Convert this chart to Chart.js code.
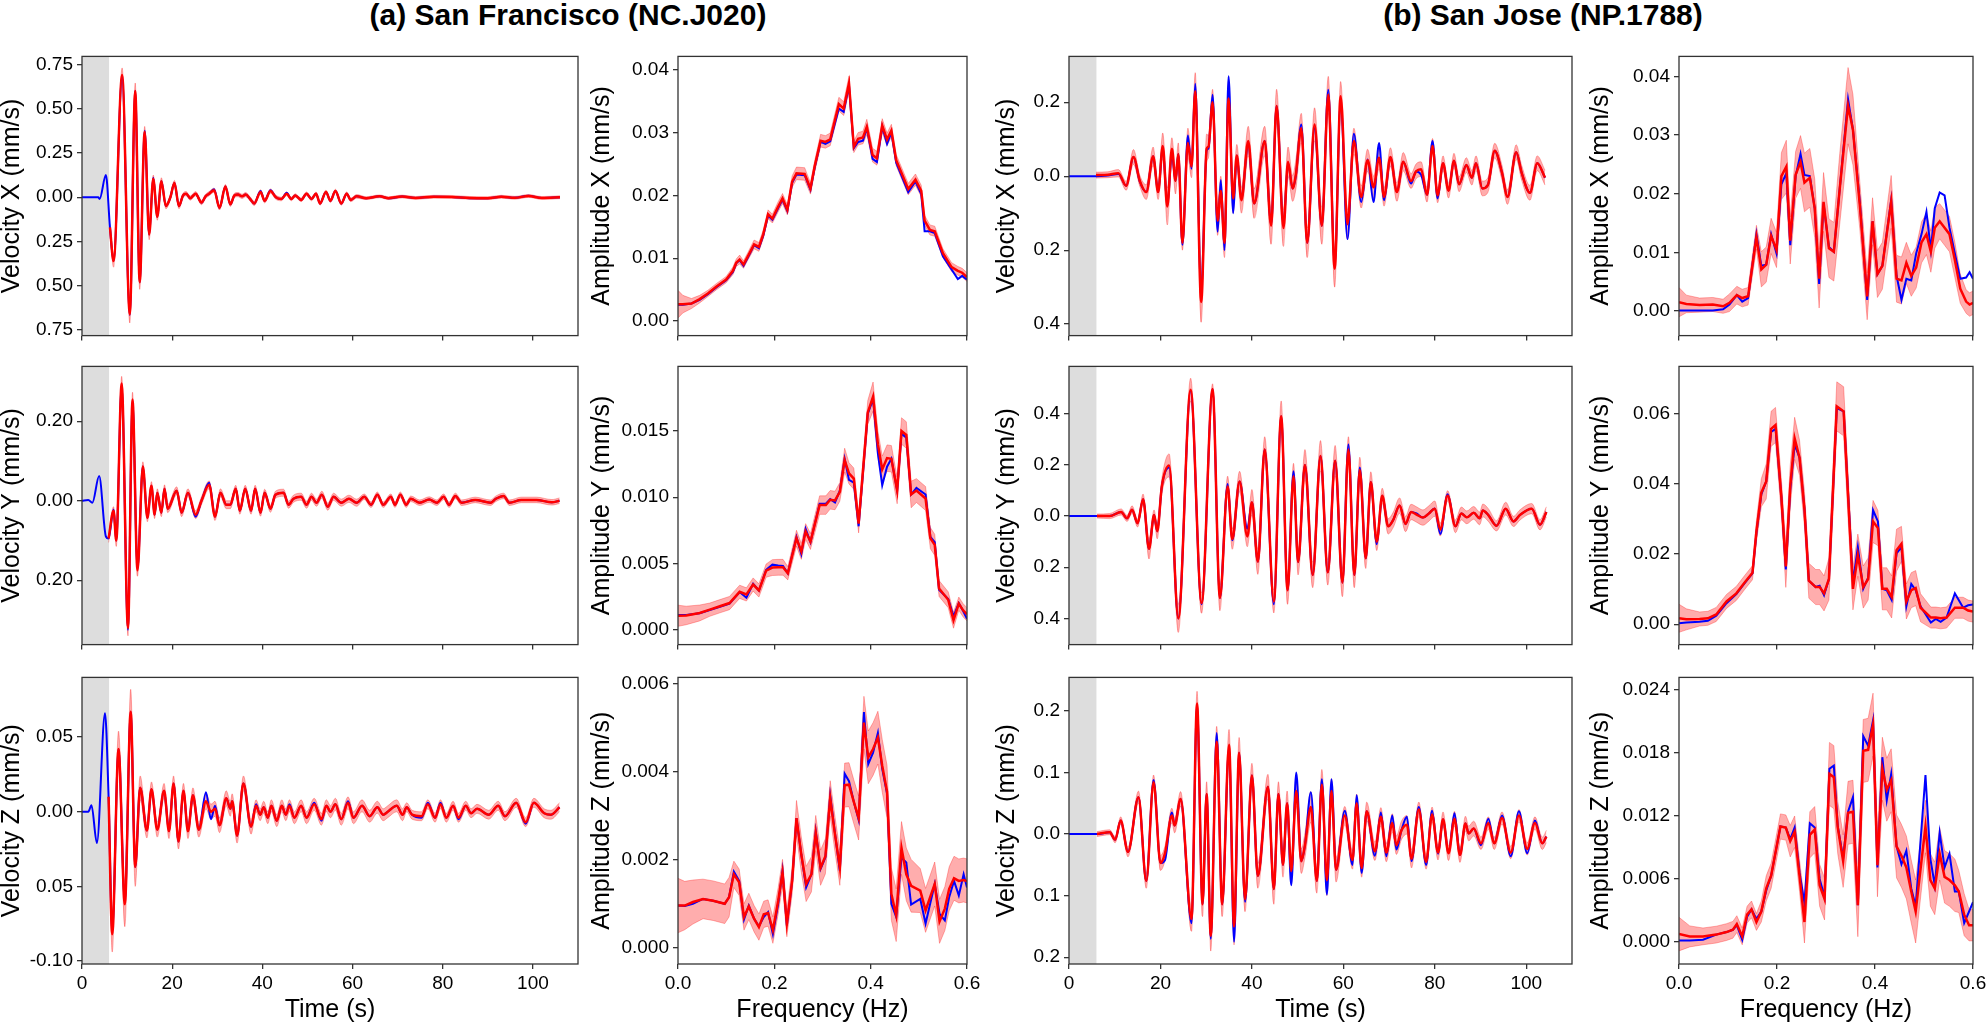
<!DOCTYPE html>
<html>
<head>
<meta charset="utf-8">
<title>Waveform and spectrum reconstruction</title>
<script src="https://cdn.jsdelivr.net/npm/chart.js@4.4.1/dist/chart.umd.min.js"></script>
<style>
html, body { margin: 0; padding: 0; background: #fff; }
body { position: relative; width: 1986px; height: 1029px; overflow: hidden; }
canvas { position: absolute; }
.fig-title { position: absolute; top: 0px; transform: translateX(-50%); font: bold 30px/30px 'Liberation Sans', Arial, sans-serif; color: #000; white-space: nowrap; }
</style>
</head>
<body>
<div class="fig-title" style="left:568px">(a) San Francisco (NC.J020)</div>
<div class="fig-title" style="left:1543px">(b) San Jose (NP.1788)</div>
<script>
/* ---------- data ---------- */
var inputWindow = [0, 6];

var timeTicks = [0, 20, 40, 60, 80, 100];
var timeTickLabels = ['0', '20', '40', '60', '80', '100'];
var freqTicks = [0, 0.2, 0.4, 0.6];
var freqTickLabels = ['0.0', '0.2', '0.4', '0.6'];

/* (a) San Francisco, velocity X */
var sfVelXTime = [0, 3.6, 3.9, 5.3, 6.2, 7.0, 8.9, 10.6, 11.8, 12.8, 13.9, 14.9, 15.8, 16.7, 17.6, 18.6, 19.6, 20.5, 21.5, 22.4, 23.1, 24.0, 25.2, 26.5, 27.4, 28.2, 29.3, 30.5, 31.8, 32.9, 33.8, 34.6, 35.5, 36.3, 37.3, 38.2, 39.6, 40.5, 41.8, 43.0, 44.2, 45.4, 46.4, 47.3, 48.6, 49.8, 50.9, 51.9, 52.8, 54.1, 55.1, 56.2, 57.5, 58.7, 59.6, 60.9, 63, 66, 68, 71, 74, 78, 82, 86, 90, 93, 96, 99, 102, 106];
var sfVelXTrue = [0, 0, -0.01, 0.125, -0.17, -0.36, 0.68, -0.665, 0.60, -0.48, 0.375, -0.21, 0.11, -0.11, 0.09, -0.05, 0.0, 0.08, -0.05, 0.01, 0.02, -0.005, 0.02, -0.03, 0.005, 0.02, 0.045, -0.06, 0.06, -0.04, 0.01, 0.015, 0.005, 0.015, -0.01, -0.035, 0.035, -0.02, 0.04, 0.0, -0.01, 0.025, -0.01, 0.01, -0.015, 0.02, -0.01, 0.02, -0.035, 0.03, -0.02, 0.035, -0.035, 0.02, -0.015, 0.005, -0.005, 0.006, -0.006, 0.004, -0.004, 0.003, 0.002, -0.005, -0.006, 0.003, -0.003, 0.008, -0.004, 0.0];
var sfVelXPred = [null, null, null, null, -0.17, -0.36, 0.69, -0.66, 0.60, -0.48, 0.37, -0.21, 0.105, -0.11, 0.09, -0.05, 0.0, 0.08, -0.05, 0.01, 0.02, -0.005, 0.02, -0.03, 0.005, 0.02, 0.04, -0.06, 0.06, -0.04, 0.01, 0.015, 0.005, 0.015, -0.01, -0.035, 0.03, -0.02, 0.035, 0.0, -0.01, 0.02, -0.01, 0.01, -0.015, 0.02, -0.01, 0.02, -0.035, 0.03, -0.02, 0.035, -0.035, 0.02, -0.015, 0.005, -0.005, 0.005, -0.005, 0.004, -0.004, 0.003, 0.002, -0.004, -0.005, 0.003, -0.003, 0.007, -0.004, 0.0];
var sfVelXStd = [null, null, null, null, 0.02, 0.035, 0.04, 0.05, 0.045, 0.04, 0.03, 0.03, 0.02, 0.02, 0.02, 0.015, 0.015, 0.015, 0.015,
  0.012, 0.012, 0.012, 0.012, 0.012, 0.012, 0.012, 0.012, 0.012, 0.012, 0.012, 0.012, 0.012, 0.012, 0.012, 0.012, 0.012, 0.012, 0.012, 0.012, 0.012,
  0.01, 0.01, 0.01, 0.01, 0.01, 0.01, 0.01, 0.01, 0.01, 0.01, 0.01, 0.01, 0.01, 0.01, 0.01, 0.01,
  0.008, 0.008, 0.008, 0.008, 0.008, 0.008, 0.008, 0.008, 0.008, 0.008, 0.008, 0.008, 0.008, 0.008];
var sfVelXTicks = [0.75, 0.5, 0.25, 0, -0.25, -0.5, -0.75];
var sfVelXTickLabels = ['0.75', '0.50', '0.25', '0.00', '0.25', '0.50', '0.75'];

/* (a) San Francisco, velocity Y */
var sfVelYTime = [0, 1.4, 2.3, 3.8, 5.3, 5.9, 7.0, 7.6, 8.8, 10.2, 11.2, 12.3, 13.5, 14.5, 15.4, 16.1, 16.7, 17.6, 18.3, 19.0, 21.0, 22.1, 23.5, 25.2, 26.5, 28.2, 29.5, 30.7, 32.0, 32.9, 34.1, 35.0, 36.2, 37.5, 38.4, 39.6, 40.5, 41.8, 42.9, 44.7, 45.8, 46.9, 48.6, 49.8, 50.9, 52.0, 53.2, 54.5, 55.8, 57.5, 59.2, 60.9, 62.6, 64.1, 65.5, 66.8, 68.5, 69.4, 70.6, 71.9, 72.9, 74.9, 77.0, 78.7, 80.2, 81.4, 82.8, 84.2, 87.2, 90.6, 91.8, 93.5, 94.8, 97.4, 100.8, 104.2, 105.9];
var sfVelYTrue = [0, 0.002, -0.005, 0.062, -0.09, -0.095, -0.022, -0.10, 0.29, -0.325, 0.25, -0.17, 0.086, -0.043, 0.038, -0.035, 0.02, -0.03, 0.03, -0.02, 0.025, -0.03, 0.02, -0.04, 0.0, 0.045, -0.04, 0.02, -0.01, -0.01, 0.03, -0.025, 0.03, -0.025, 0.03, -0.03, 0.02, -0.02, 0.015, 0.02, -0.01, 0.005, 0.01, -0.01, 0.01, -0.005, 0.015, -0.015, 0.01, -0.005, 0.005, -0.005, 0.01, -0.01, 0.015, -0.01, 0.01, -0.01, 0.015, -0.01, 0.005, -0.005, 0.003, -0.005, 0.01, -0.01, 0.012, -0.005, 0.002, -0.005, 0.005, 0.012, -0.005, 0.002, 0.002, -0.004, 0.0];
var sfVelYPred = [null, null, null, null, null, -0.095, -0.025, -0.10, 0.295, -0.32, 0.255, -0.175, 0.086, -0.043, 0.038, -0.035, 0.02, -0.03, 0.03, -0.02, 0.025, -0.03, 0.02, -0.035, 0.0, 0.04, -0.04, 0.02, -0.01, -0.01, 0.03, -0.025, 0.03, -0.025, 0.03, -0.03, 0.02, -0.02, 0.015, 0.02, -0.01, 0.005, 0.01, -0.01, 0.01, -0.005, 0.015, -0.015, 0.01, -0.005, 0.005, -0.005, 0.01, -0.01, 0.015, -0.01, 0.01, -0.01, 0.015, -0.01, 0.005, -0.005, 0.003, -0.005, 0.01, -0.01, 0.012, -0.005, 0.002, -0.005, 0.005, 0.012, -0.005, 0.002, 0.002, -0.004, 0.0];
var sfVelYStd = [null, null, null, null, null, 0.01, 0.01, 0.015, 0.018, 0.02, 0.018, 0.015, 0.012,
  0.01, 0.01, 0.01, 0.01, 0.01, 0.01, 0.01, 0.01, 0.01, 0.01, 0.01, 0.01, 0.01, 0.01, 0.01, 0.01, 0.01,
  0.009, 0.009, 0.009, 0.009, 0.009, 0.009, 0.009, 0.009, 0.009, 0.009, 0.009, 0.009, 0.009, 0.009, 0.009, 0.009, 0.009, 0.009, 0.009, 0.009, 0.009, 0.009,
  0.007, 0.007, 0.007, 0.007, 0.007, 0.007, 0.007, 0.007, 0.007, 0.007, 0.007, 0.007, 0.007, 0.007, 0.007, 0.007, 0.007, 0.007, 0.007, 0.007, 0.007, 0.007, 0.007, 0.007, 0.007];
var sfVelYTicks = [0.2, 0, -0.2];
var sfVelYTickLabels = ['0.20', '0.00', '0.20'];

/* (a) San Francisco, velocity Z */
var sfVelZTime = [0, 1.4, 2.1, 3.3, 5.1, 5.9, 6.7, 8.1, 9.5, 10.8, 11.8, 12.9, 14.4, 15.4, 16.7, 18.2, 19.3, 20.3, 21.4, 22.5, 23.5, 24.6, 25.9, 27.5, 28.6, 29.5, 30.5, 32.0, 32.9, 33.3, 34.4, 35.8, 37.5, 38.6, 39.5, 40.3, 41.2, 42.0, 43.2, 44.3, 45.2, 46.0, 47.1, 48.6, 49.8, 51.5, 53.1, 54.2, 55.1, 56.2, 57.5, 59.0, 60.2, 62.1, 63.8, 65.5, 66.8, 67.8, 69.8, 71.1, 72.0, 73.2, 75.3, 76.7, 78.3, 79.5, 80.8, 82.3, 83.5, 85.1, 86.3, 87.6, 90.2, 92.3, 93.8, 96.3, 98.4, 100.2, 102.5, 104.0, 105.9];
var sfVelZTrue = [0, 0.0, 0.0044, -0.021, 0.066, 0.0095, -0.08, 0.042, -0.06, 0.067, -0.037, 0.016, -0.0126, 0.015, -0.012, 0.014, -0.013, 0.019, -0.02, 0.014, -0.013, 0.011, -0.012, 0.013, -0.005, 0.004, -0.009, 0.009, 0.002, 0.007, -0.016, 0.019, -0.01, 0.005, -0.002, 0.003, -0.004, 0.004, -0.006, 0.004, -0.002, 0.005, -0.004, 0.004, -0.004, 0.006, -0.006, 0.004, 0.0, 0.005, -0.005, 0.007, -0.004, 0.004, -0.003, 0.003, -0.002, 0.0, 0.004, -0.002, 0.003, -0.002, -0.004, 0.006, -0.004, 0.006, -0.004, 0.004, -0.005, 0.004, -0.001, 0.002, -0.002, 0.004, -0.003, 0.006, -0.008, 0.006, -0.001, -0.002, 0.003];
var sfVelZPred = [null, null, null, null, null, 0.01, -0.082, 0.042, -0.062, 0.067, -0.037, 0.016, -0.0126, 0.015, -0.012, 0.014, -0.013, 0.019, -0.02, 0.014, -0.013, 0.011, -0.012, 0.007, 0.0, 0.002, -0.009, 0.009, 0.002, 0.007, -0.016, 0.019, -0.01, 0.004, -0.002, 0.003, -0.004, 0.004, -0.006, 0.004, -0.002, 0.004, -0.004, 0.004, -0.004, 0.005, -0.005, 0.004, 0.0, 0.005, -0.005, 0.006, -0.004, 0.004, -0.003, 0.003, -0.002, 0.0, 0.004, -0.002, 0.003, -0.002, -0.003, 0.005, -0.004, 0.005, -0.004, 0.004, -0.004, 0.004, -0.001, 0.002, -0.002, 0.004, -0.003, 0.006, -0.007, 0.006, -0.001, -0.002, 0.003];
var sfVelZStd = [null, null, null, null, null, 0.004, 0.012, 0.012, 0.015, 0.015, 0.013, 0.008,
  0.005, 0.005, 0.005, 0.005, 0.005, 0.005, 0.005, 0.005, 0.005, 0.005, 0.005, 0.005, 0.005, 0.005, 0.005, 0.005, 0.005, 0.005, 0.005, 0.005, 0.005,
  0.004, 0.004, 0.004, 0.004, 0.004, 0.004, 0.004, 0.004, 0.004, 0.004, 0.004, 0.004, 0.004, 0.004, 0.004, 0.004, 0.004, 0.004, 0.004, 0.004, 0.004, 0.004, 0.004, 0.004, 0.004, 0.004, 0.004,
  0.003, 0.003, 0.003, 0.003, 0.003, 0.003, 0.003, 0.003, 0.003, 0.003, 0.003, 0.003, 0.003, 0.003, 0.003, 0.003, 0.003, 0.003, 0.003, 0.003, 0.003];
var sfVelZTicks = [0.05, 0, -0.05, -0.1];
var sfVelZTickLabels = ['0.05', '0.00', '0.05', '-0.10'];

/* (a) San Francisco, amplitude spectra */
var sfAmpXFreq = [0, 0.010, 0.028, 0.045, 0.062, 0.080, 0.100, 0.114, 0.121, 0.128, 0.136, 0.145, 0.158, 0.168, 0.177, 0.187, 0.196, 0.208, 0.217, 0.227, 0.237, 0.246, 0.263, 0.275, 0.284, 0.296, 0.306, 0.316, 0.334, 0.344, 0.355, 0.365, 0.374, 0.384, 0.392, 0.404, 0.413, 0.424, 0.434, 0.443, 0.453, 0.478, 0.493, 0.505, 0.512, 0.523, 0.533, 0.550, 0.568, 0.581, 0.590, 0.600];
var sfAmpXTrue = [0.0026, 0.0026, 0.0028, 0.0034, 0.0043, 0.0054, 0.0065, 0.0078, 0.0092, 0.0097, 0.0088, 0.0101, 0.0121, 0.0116, 0.0136, 0.0168, 0.0161, 0.0180, 0.0193, 0.0175, 0.0220, 0.0233, 0.0232, 0.0209, 0.0245, 0.0285, 0.0282, 0.0286, 0.0338, 0.0333, 0.0375, 0.0275, 0.0285, 0.0287, 0.0307, 0.0258, 0.0253, 0.0309, 0.0282, 0.0300, 0.0252, 0.0205, 0.0222, 0.0202, 0.0143, 0.0143, 0.0140, 0.0103, 0.0082, 0.0067, 0.0072, 0.0066];
var sfAmpXPred = [0.0027, 0.0027, 0.0028, 0.0035, 0.0044, 0.0055, 0.0066, 0.0080, 0.0093, 0.0098, 0.0090, 0.0103, 0.0122, 0.0118, 0.0138, 0.0170, 0.0163, 0.0182, 0.0195, 0.0177, 0.0222, 0.0235, 0.0234, 0.0211, 0.0247, 0.0287, 0.0285, 0.0289, 0.0345, 0.0338, 0.0378, 0.0277, 0.0290, 0.0292, 0.0309, 0.0264, 0.0259, 0.0311, 0.0289, 0.0303, 0.0256, 0.0210, 0.0225, 0.0207, 0.0160, 0.0145, 0.0143, 0.0108, 0.0086, 0.0080, 0.0077, 0.0070];
var sfAmpXStd = [0.0022, 0.0014, 0.0008, 0.0006, 0.0005, 0.0005, 0.0005, 0.0006, 0.0006, 0.0007, 0.0006, 0.0006, 0.0007, 0.0007, 0.0007, 0.0007, 0.0007, 0.0008, 0.0008, 0.0008, 0.0009, 0.001, 0.001, 0.0009, 0.0009, 0.001, 0.001, 0.001, 0.0011, 0.0011, 0.0012, 0.0009, 0.001, 0.001, 0.0012, 0.0011, 0.0011, 0.0011, 0.001, 0.001, 0.0009, 0.0009, 0.0009, 0.0009, 0.0008, 0.0008, 0.0008, 0.0007, 0.0007, 0.0007, 0.0007, 0.0007];
var sfAmpXTicks = [0, 0.01, 0.02, 0.03, 0.04];
var sfAmpXTickLabels = ['0.00', '0.01', '0.02', '0.03', '0.04'];

var sfAmpYFreq = [0, 0.017, 0.045, 0.066, 0.087, 0.107, 0.128, 0.142, 0.156, 0.168, 0.183, 0.196, 0.208, 0.218, 0.228, 0.246, 0.256, 0.265, 0.275, 0.294, 0.307, 0.316, 0.326, 0.336, 0.346, 0.355, 0.365, 0.375, 0.394, 0.405, 0.415, 0.424, 0.434, 0.443, 0.455, 0.464, 0.474, 0.484, 0.495, 0.514, 0.524, 0.533, 0.542, 0.561, 0.572, 0.583, 0.592, 0.600];
var sfAmpYTrue = [0.00110, 0.00110, 0.00123, 0.00147, 0.00172, 0.00195, 0.00283, 0.00240, 0.00345, 0.00295, 0.00450, 0.00490, 0.00483, 0.00480, 0.00425, 0.00700, 0.00570, 0.00760, 0.00660, 0.00950, 0.00950, 0.00985, 0.00960, 0.01050, 0.01290, 0.01130, 0.01110, 0.00780, 0.01630, 0.01740, 0.01330, 0.01090, 0.01230, 0.01290, 0.01050, 0.01480, 0.01450, 0.01020, 0.01070, 0.01020, 0.00700, 0.00660, 0.00300, 0.00230, 0.00100, 0.00200, 0.00140, 0.00080];
var sfAmpYPred = [0.00104, 0.00106, 0.00125, 0.00150, 0.00176, 0.00200, 0.00285, 0.00265, 0.00340, 0.00295, 0.00445, 0.00468, 0.00470, 0.00470, 0.00425, 0.00690, 0.00590, 0.00740, 0.00665, 0.00940, 0.00940, 0.00980, 0.00975, 0.01040, 0.01280, 0.01180, 0.01140, 0.00800, 0.01640, 0.01760, 0.01400, 0.01210, 0.01295, 0.01290, 0.01050, 0.01500, 0.01470, 0.01020, 0.01050, 0.00990, 0.00690, 0.00640, 0.00310, 0.00225, 0.00070, 0.00195, 0.00145, 0.00115];
var sfAmpYStd = [0.0008, 0.0007, 0.0006, 0.0005, 0.0005, 0.0005, 0.0005, 0.0005, 0.0005, 0.0005, 0.0005, 0.0006, 0.0006, 0.0006, 0.0005, 0.0006, 0.0006, 0.0006, 0.0006, 0.0007, 0.0007, 0.0007, 0.0007, 0.0007, 0.0009, 0.0008, 0.0008, 0.0007, 0.0009, 0.0011, 0.001, 0.001, 0.001, 0.001, 0.001, 0.001, 0.001, 0.001, 0.0009, 0.0009, 0.0008, 0.0008, 0.0006, 0.0006, 0.0006, 0.0005, 0.0005, 0.0005];
var sfAmpYTicks = [0, 0.005, 0.01, 0.015];
var sfAmpYTickLabels = ['0.000', '0.005', '0.010', '0.015'];

var sfAmpZFreq = [0, 0.014, 0.031, 0.052, 0.073, 0.097, 0.106, 0.116, 0.127, 0.137, 0.147, 0.158, 0.168, 0.178, 0.187, 0.197, 0.208, 0.217, 0.226, 0.237, 0.246, 0.256, 0.266, 0.277, 0.286, 0.296, 0.306, 0.316, 0.325, 0.336, 0.346, 0.355, 0.365, 0.375, 0.386, 0.395, 0.405, 0.415, 0.424, 0.434, 0.443, 0.453, 0.464, 0.474, 0.484, 0.503, 0.514, 0.533, 0.543, 0.554, 0.563, 0.573, 0.583, 0.593, 0.600];
var sfAmpZTrue = [0.00095, 0.00094, 0.00099, 0.0011, 0.00106, 0.00099, 0.00114, 0.00172, 0.00151, 0.00063, 0.00095, 0.00065, 0.00048, 0.00069, 0.0008, 0.0003, 0.00099, 0.00174, 0.0005, 0.00151, 0.00294, 0.00211, 0.00136, 0.00166, 0.00264, 0.00178, 0.00204, 0.00345, 0.00267, 0.00174, 0.00395, 0.00378, 0.00331, 0.0029, 0.00535, 0.00417, 0.00443, 0.00488, 0.00406, 0.0035, 0.00099, 0.00069, 0.00204, 0.00193, 0.00097, 0.0011, 0.00054, 0.00144, 0.00076, 0.00061, 0.00114, 0.00151, 0.00118, 0.00166, 0.00136];
var sfAmpZPred = [0.00095, 0.00095, 0.00103, 0.0011, 0.00106, 0.00099, 0.00114, 0.00166, 0.00148, 0.00069, 0.00093, 0.00065, 0.00046, 0.00075, 0.00078, 0.00039, 0.00106, 0.0017, 0.00054, 0.00151, 0.00294, 0.00211, 0.00144, 0.00166, 0.0026, 0.00181, 0.00207, 0.00339, 0.00264, 0.00181, 0.00369, 0.0037, 0.00331, 0.00294, 0.00511, 0.00432, 0.00451, 0.00477, 0.00413, 0.00354, 0.00121, 0.00073, 0.00226, 0.00166, 0.0014, 0.00129, 0.00084, 0.00144, 0.00059, 0.00088, 0.00133, 0.00157, 0.00151, 0.00153, 0.00151];
var sfAmpZStd = [0.00062, 0.00055, 0.0005, 0.00045, 0.00045, 0.00045, 0.00045, 0.0003, 0.0003, 0.0003, 0.0003, 0.0003, 0.0003, 0.0003, 0.0003, 0.0003, 0.0003, 0.0003, 0.0003, 0.0003, 0.0004, 0.0004, 0.0004, 0.0004, 0.0004, 0.0004, 0.0004, 0.0004, 0.0004, 0.0004, 0.0005, 0.0005, 0.0005, 0.0005, 0.0006, 0.0006, 0.0006, 0.0006, 0.0006, 0.0006, 0.0006, 0.0006, 0.0006, 0.0006, 0.0006, 0.0005, 0.0005, 0.0005, 0.0005, 0.0005, 0.0005, 0.0005, 0.0005, 0.0005, 0.0005];
var sfAmpZTicks = [0, 0.002, 0.004, 0.006];
var sfAmpZTickLabels = ['0.000', '0.002', '0.004', '0.006'];

/* (b) San Jose, velocity X */
var sjVelXTime = [0, 5.9, 8.5, 10.8, 12.5, 14.1, 15.5, 16.9, 18.4, 19.5, 20.5, 21.5, 22.5, 23.3, 23.9, 24.8, 26.0, 26.8, 27.6, 28.9, 30.1, 30.5, 31.4, 32.5, 33.2, 34.0, 34.9, 35.9, 36.7, 37.7, 39.2, 40.5, 42.8, 44.2, 45.4, 46.9, 47.9, 48.9, 49.6, 50.8, 52.1, 53.7, 55.3, 56.7, 58.1, 59.4, 60.9, 62.3, 63.9, 65.3, 66.6, 67.8, 68.9, 70.3, 71.7, 73.1, 74.8, 75.9, 77.0, 78.3, 79.5, 80.6, 81.8, 83.0, 84.2, 85.3, 86.9, 88.1, 89.0, 90.4, 91.6, 93.1, 94.7, 95.9, 97.8, 99.0, 100.8, 102.4, 104.1];
var sjVelXTrue = [0, 0, 0.002, 0.006, -0.026, 0.052, -0.015, -0.043, 0.054, -0.043, 0.08, -0.08, 0.06, -0.013, 0.06, -0.185, 0.11, 0.02, 0.25, -0.31, 0.07, 0.075, 0.22, -0.15, -0.01, -0.2, 0.27, -0.10, 0.056, -0.06, 0.085, -0.074, 0.095, -0.13, 0.19, -0.13, 0.035, -0.033, 0.0, 0.14, -0.18, 0.13, -0.134, 0.234, -0.24, 0.20, -0.17, 0.115, -0.07, 0.045, -0.07, 0.09, -0.065, 0.052, -0.043, 0.039, -0.02, 0.013, 0.004, -0.05, 0.095, -0.06, 0.035, -0.039, 0.042, -0.022, 0.03, -0.004, 0.035, -0.033, -0.024, 0.069, 0.009, -0.056, 0.065, 0.009, -0.045, 0.035, -0.004];
var sjVelXPred = [null, 0.003, 0.004, 0.008, -0.026, 0.052, -0.013, -0.043, 0.054, -0.043, 0.082, -0.082, 0.074, -0.013, 0.06, -0.18, 0.09, 0.026, 0.23, -0.34, 0.074, 0.08, 0.20, -0.12, -0.04, -0.18, 0.21, -0.06, 0.056, -0.065, 0.095, -0.074, 0.095, -0.134, 0.19, -0.14, 0.039, -0.033, 0.004, 0.13, -0.18, 0.14, -0.134, 0.22, -0.25, 0.216, -0.13, 0.095, -0.056, 0.043, -0.03, 0.05, -0.056, 0.052, -0.043, 0.039, -0.013, 0.013, 0.019, -0.05, 0.082, -0.052, 0.035, -0.039, 0.042, -0.022, 0.03, -0.004, 0.035, -0.033, -0.024, 0.069, 0.009, -0.056, 0.065, 0.009, -0.045, 0.035, -0.004];
var sjVelXStd = [null, 0.008, 0.008, 0.01, 0.012, 0.02, 0.015, 0.02, 0.025, 0.02, 0.035, 0.05, 0.03, 0.035, 0.03, 0.02, 0.04, 0.03, 0.05, 0.055, 0.04, 0.03, 0.035, 0.04, 0.04, 0.04, 0.05, 0.04, 0.03, 0.035, 0.04, 0.04, 0.04, 0.05, 0.045, 0.05, 0.04, 0.035, 0.04, 0.04, 0.04, 0.045, 0.05, 0.05, 0.05, 0.04, 0.04, 0.035, 0.03, 0.03, 0.03, 0.03, 0.025, 0.025, 0.025, 0.025,
  0.02, 0.02, 0.02, 0.02, 0.02, 0.02, 0.02, 0.02, 0.02, 0.02, 0.02, 0.02, 0.02, 0.02, 0.02, 0.02, 0.02, 0.02, 0.02, 0.02, 0.02, 0.02, 0.02];
var sjVelXTicks = [0.2, 0, -0.2, -0.4];
var sjVelXTickLabels = ['0.2', '0.0', '0.2', '0.4'];

/* (b) San Jose, velocity Y */
var sjVelYTime = [0, 6.1, 8.9, 11.4, 12.7, 13.8, 15.0, 16.2, 17.5, 18.6, 19.3, 20.3, 21.9, 23.9, 26.6, 29.0, 31.4, 33.0, 34.7, 35.7, 37.3, 39.0, 40.0, 41.3, 42.8, 44.8, 46.4, 47.8, 49.1, 50.1, 51.6, 53.3, 55.0, 56.6, 58.2, 59.8, 61.1, 62.4, 63.6, 64.9, 66.0, 67.3, 68.5, 69.8, 70.9, 72.3, 73.6, 74.8, 76.0, 77.4, 78.7, 80.0, 81.2, 82.8, 84.5, 85.8, 87.0, 88.5, 89.8, 90.5, 91.7, 93.5, 95.5, 97.2, 98.6, 101.2, 103.0, 104.4];
var sjVelYTrue = [0, 0, 0.0, 0.016, -0.009, 0.025, -0.028, 0.066, -0.128, 0.004, -0.059, 0.116, 0.19, -0.40, 0.49, -0.345, 0.497, -0.32, 0.125, -0.095, 0.135, -0.05, 0.054, -0.178, 0.26, -0.345, 0.39, -0.29, 0.175, -0.18, 0.20, -0.23, 0.235, -0.22, 0.216, -0.26, 0.28, -0.23, 0.19, -0.165, 0.133, -0.11, 0.079, -0.04, -0.015, 0.041, -0.031, 0.016, 0.01, -0.006, 0.01, 0.03, -0.07, 0.085, -0.04, 0.01, -0.005, 0.0125, -0.009, 0.022, 0.004, -0.038, 0.029, -0.021, 0.004, 0.029, -0.034, 0.016];
var sjVelYPred = [null, 0.0, 0.0, 0.016, -0.009, 0.025, -0.028, 0.066, -0.128, 0.004, -0.059, 0.116, 0.198, -0.40, 0.494, -0.34, 0.497, -0.32, 0.116, -0.09, 0.135, -0.08, 0.054, -0.178, 0.26, -0.334, 0.39, -0.29, 0.156, -0.18, 0.20, -0.23, 0.235, -0.22, 0.216, -0.26, 0.26, -0.23, 0.18, -0.165, 0.133, -0.10, 0.079, -0.04, -0.015, 0.041, -0.031, 0.016, 0.006, -0.006, 0.01, 0.029, -0.053, 0.079, -0.04, 0.01, -0.005, 0.0125, -0.009, 0.022, 0.004, -0.038, 0.029, -0.021, 0.004, 0.029, -0.034, 0.016];
var sjVelYStd = [null, 0.008, 0.01, 0.012, 0.012, 0.015, 0.015, 0.02, 0.04, 0.02, 0.03, 0.03, 0.045, 0.055, 0.045, 0.04, 0.02, 0.05, 0.04, 0.04, 0.04, 0.04, 0.05, 0.05, 0.05, 0.045, 0.06, 0.055, 0.05, 0.05, 0.06, 0.05, 0.06, 0.05, 0.06, 0.055, 0.05, 0.05, 0.05, 0.04, 0.04, 0.035, 0.03, 0.03, 0.03, 0.03, 0.03, 0.03, 0.03, 0.03, 0.03, 0.03, 0.025, 0.02, 0.025, 0.025, 0.025, 0.025, 0.025, 0.025, 0.025, 0.02, 0.025, 0.02, 0.02, 0.02, 0.02, 0.02];
var sjVelYTicks = [0.4, 0.2, 0, -0.2, -0.4];
var sjVelYTickLabels = ['0.4', '0.2', '0.0', '0.2', '0.4'];

/* (b) San Jose, velocity Z */
var sjVelZTime = [0, 6.1, 8.9, 10.1, 11.3, 12.9, 15.2, 16.9, 18.5, 20.0, 21.0, 22.5, 23.1, 24.4, 26.8, 28.0, 29.2, 30.1, 31.0, 32.3, 33.5, 35.0, 36.1, 37.2, 38.5, 40.0, 41.3, 43.5, 44.8, 45.8, 46.8, 47.7, 48.6, 49.7, 50.8, 51.6, 52.9, 54.2, 55.3, 56.4, 57.4, 58.4, 60.3, 62.0, 62.9, 64.0, 65.1, 66.9, 68.2, 69.4, 70.7, 71.6, 72.7, 73.9, 74.9, 76.5, 78.1, 79.4, 80.7, 81.8, 83.0, 84.3, 85.5, 86.7, 87.4, 88.5, 90.1, 91.7, 93.0, 94.7, 96.6, 98.4, 100.2, 101.9, 103.5, 104.4];
var sjVelZTrue = [0, 0, 0.003, -0.009, 0.022, -0.029, 0.06, -0.076, 0.088, -0.047, -0.042, 0.035, 0.014, 0.057, -0.145, 0.21, -0.114, 0.065, -0.17, 0.164, -0.114, 0.14, -0.175, 0.132, -0.11, 0.095, -0.068, 0.077, -0.089, 0.065, -0.05, 0.05, -0.083, 0.1, -0.044, -0.018, 0.068, -0.076, 0.089, -0.098, 0.089, -0.058, 0.038, -0.05, 0.063, -0.063, 0.037, -0.035, 0.035, -0.036, 0.03, -0.025, 0.006, 0.028, -0.044, 0.044, -0.05, 0.038, -0.032, 0.024, -0.031, 0.034, -0.034, 0.017, 0.001, 0.009, -0.018, 0.025, -0.015, 0.03, -0.036, 0.037, -0.031, 0.022, -0.015, -0.004];
var sjVelZPred = [null, 0.0, 0.003, -0.009, 0.022, -0.029, 0.06, -0.076, 0.084, -0.047, -0.031, 0.03, 0.014, 0.057, -0.138, 0.212, -0.114, 0.065, -0.165, 0.15, -0.114, 0.145, -0.15, 0.132, -0.106, 0.095, -0.068, 0.077, -0.089, 0.065, -0.05, 0.05, -0.06, 0.07, -0.044, -0.018, 0.044, -0.076, 0.08, -0.075, 0.07, -0.058, 0.03, -0.042, 0.05, -0.055, 0.037, -0.028, 0.028, -0.03, 0.018, -0.018, 0.006, 0.015, -0.04, 0.04, -0.045, 0.032, -0.03, 0.024, -0.031, 0.025, -0.034, 0.017, 0.001, 0.009, -0.015, 0.018, -0.015, 0.026, -0.03, 0.03, -0.024, 0.018, -0.015, -0.004];
var sjVelZStd = [null, 0.004, 0.004, 0.005, 0.006, 0.008, 0.01, 0.012, 0.012, 0.012, 0.012, 0.012, 0.012, 0.012,
  0.02, 0.02, 0.02, 0.02, 0.025, 0.025, 0.02, 0.025, 0.03, 0.025, 0.02, 0.02, 0.02, 0.02, 0.025, 0.02, 0.02, 0.02, 0.02, 0.025, 0.02, 0.02, 0.025, 0.02, 0.025, 0.025, 0.02, 0.02,
  0.015, 0.015, 0.015, 0.015, 0.015, 0.015, 0.015, 0.015, 0.015, 0.015, 0.015, 0.015, 0.015,
  0.012, 0.012, 0.012, 0.012, 0.012, 0.012, 0.012, 0.012, 0.012, 0.012, 0.012,
  0.01, 0.01, 0.01, 0.01, 0.01, 0.01, 0.01, 0.01, 0.01, 0.01];
var sjVelZTicks = [0.2, 0.1, 0, -0.1, -0.2];
var sjVelZTickLabels = ['0.2', '0.1', '0.0', '0.1', '0.2'];

/* (b) San Jose, amplitude spectra */
var sjAmpXFreq = [0, 0.015, 0.042, 0.069, 0.090, 0.103, 0.118, 0.129, 0.141, 0.158, 0.168, 0.178, 0.188, 0.199, 0.209, 0.219, 0.227, 0.238, 0.248, 0.256, 0.267, 0.277, 0.286, 0.295, 0.306, 0.316, 0.328, 0.345, 0.355, 0.369, 0.384, 0.395, 0.405, 0.415, 0.433, 0.444, 0.454, 0.464, 0.474, 0.484, 0.495, 0.505, 0.514, 0.522, 0.532, 0.542, 0.552, 0.563, 0.574, 0.586, 0.593, 0.600];
var sjAmpXTrue = [0.0001, 0.0001, 0.0001, 0.0001, 0.0003, 0.0011, 0.0027, 0.0016, 0.0022, 0.0131, 0.0077, 0.0079, 0.0131, 0.0098, 0.0216, 0.0235, 0.0112, 0.023, 0.0268, 0.0232, 0.023, 0.0175, 0.0046, 0.0183, 0.0109, 0.0101, 0.0208, 0.0361, 0.0309, 0.0186, 0.0019, 0.0153, 0.0063, 0.0077, 0.0189, 0.006, 0.0019, 0.0055, 0.0052, 0.0098, 0.0131, 0.0169, 0.0104, 0.0175, 0.0202, 0.0197, 0.0142, 0.0098, 0.0055, 0.0057, 0.0066, 0.0055];
var sjAmpXPred = [0.0015, 0.0012, 0.001, 0.0011, 0.0008, 0.0014, 0.0027, 0.0022, 0.0025, 0.0126, 0.0071, 0.0079, 0.0128, 0.0104, 0.023, 0.0246, 0.012, 0.0232, 0.0254, 0.0219, 0.0227, 0.0175, 0.0055, 0.0186, 0.0107, 0.0101, 0.0208, 0.035, 0.0309, 0.018, 0.0025, 0.0153, 0.0063, 0.0077, 0.0186, 0.0055, 0.0052, 0.0082, 0.006, 0.0074, 0.0117, 0.0131, 0.0101, 0.0142, 0.0153, 0.0142, 0.0131, 0.0087, 0.0038, 0.0016, 0.0011, 0.0014];
var sjAmpXStd = [0.0025, 0.0015, 0.0012, 0.0012, 0.0012, 0.0015, 0.0015, 0.0015, 0.0015, 0.002, 0.003, 0.003, 0.003, 0.003, 0.004, 0.0045, 0.004, 0.004, 0.0045, 0.005, 0.005, 0.005, 0.005, 0.005, 0.005, 0.005, 0.006, 0.0065, 0.006, 0.004, 0.004, 0.004, 0.004, 0.004, 0.0045, 0.004, 0.004, 0.0035, 0.0035, 0.0035, 0.0035, 0.0035, 0.0035, 0.0035, 0.003, 0.003, 0.003, 0.003, 0.0025, 0.002, 0.002, 0.002];
var sjAmpXTicks = [0, 0.01, 0.02, 0.03, 0.04];
var sjAmpXTickLabels = ['0.00', '0.01', '0.02', '0.03', '0.04'];

var sjAmpYFreq = [0, 0.015, 0.042, 0.059, 0.076, 0.097, 0.117, 0.134, 0.150, 0.158, 0.168, 0.178, 0.188, 0.197, 0.209, 0.218, 0.227, 0.236, 0.246, 0.256, 0.265, 0.279, 0.287, 0.296, 0.306, 0.322, 0.336, 0.355, 0.365, 0.376, 0.386, 0.396, 0.406, 0.415, 0.424, 0.434, 0.444, 0.454, 0.464, 0.474, 0.483, 0.493, 0.514, 0.524, 0.534, 0.546, 0.563, 0.580, 0.590, 0.600];
var sjAmpYTrue = [0.0003, 0.0005, 0.0007, 0.001, 0.0024, 0.006, 0.0086, 0.0117, 0.0145, 0.026, 0.037, 0.0407, 0.0548, 0.0557, 0.0361, 0.0156, 0.0384, 0.0512, 0.0475, 0.0329, 0.0124, 0.0106, 0.011, 0.0083, 0.0129, 0.0616, 0.0607, 0.0119, 0.022, 0.0101, 0.0133, 0.0325, 0.0293, 0.0101, 0.0097, 0.0069, 0.0202, 0.022, 0.0051, 0.0115, 0.0097, 0.0051, 0.0005, 0.0015, 0.0007, 0.0019, 0.0088, 0.0047, 0.0054, 0.0056];
var sjAmpYPred = [0.0017, 0.0014, 0.0015, 0.0017, 0.0028, 0.0065, 0.0088, 0.0119, 0.0147, 0.0265, 0.0375, 0.0407, 0.0557, 0.0568, 0.0361, 0.0165, 0.0393, 0.053, 0.0475, 0.0329, 0.0124, 0.0106, 0.0106, 0.0088, 0.0129, 0.0621, 0.0607, 0.0101, 0.0197, 0.0106, 0.0129, 0.0293, 0.0274, 0.0101, 0.0101, 0.0078, 0.0211, 0.0229, 0.0065, 0.0097, 0.0103, 0.0047, 0.0019, 0.0019, 0.0017, 0.0019, 0.0047, 0.0047, 0.0039, 0.0036];
var sjAmpYStd = [0.004, 0.003, 0.002, 0.002, 0.002, 0.002, 0.002, 0.002, 0.002, 0.003, 0.004, 0.005, 0.005, 0.005, 0.005, 0.006, 0.006, 0.006, 0.005, 0.005, 0.005, 0.005, 0.005, 0.005, 0.006, 0.007, 0.007, 0.006, 0.006, 0.006, 0.006, 0.006, 0.005, 0.006, 0.006, 0.006, 0.006, 0.005, 0.005, 0.005, 0.005, 0.004, 0.003, 0.003, 0.003, 0.003, 0.003, 0.003, 0.003, 0.003];
var sjAmpYTicks = [0, 0.02, 0.04, 0.06];
var sjAmpYTickLabels = ['0.00', '0.02', '0.04', '0.06'];

var sjAmpZFreq = [0, 0.022, 0.049, 0.076, 0.097, 0.110, 0.118, 0.129, 0.139, 0.148, 0.158, 0.168, 0.178, 0.188, 0.207, 0.218, 0.227, 0.236, 0.246, 0.256, 0.267, 0.277, 0.287, 0.297, 0.307, 0.316, 0.324, 0.335, 0.345, 0.355, 0.365, 0.376, 0.386, 0.396, 0.405, 0.415, 0.424, 0.433, 0.444, 0.454, 0.464, 0.474, 0.483, 0.503, 0.513, 0.522, 0.532, 0.542, 0.552, 0.563, 0.571, 0.582, 0.592, 0.600];
var sjAmpZTrue = [0.00013, 0.00013, 0.00022, 0.0007, 0.00094, 0.00116, 0.0016, 0.00022, 0.0024, 0.0031, 0.0022, 0.0029, 0.0049, 0.0063, 0.011, 0.0109, 0.0098, 0.0109, 0.0066, 0.0037, 0.0113, 0.0109, 0.006, 0.0043, 0.0165, 0.0168, 0.011, 0.008, 0.0124, 0.0138, 0.0035, 0.0196, 0.0187, 0.0211, 0.0071, 0.0176, 0.0135, 0.016, 0.0091, 0.0074, 0.0087, 0.0051, 0.0034, 0.0159, 0.0079, 0.0054, 0.0104, 0.0071, 0.0084, 0.0048, 0.0048, 0.0018, 0.0029, 0.0038];
var sjAmpZPred = [0.00075, 0.00053, 0.00053, 0.0007, 0.00094, 0.00116, 0.0017, 0.00053, 0.0026, 0.0031, 0.0019, 0.0029, 0.0051, 0.0063, 0.011, 0.0109, 0.0096, 0.0105, 0.0063, 0.0019, 0.0102, 0.0107, 0.0054, 0.0041, 0.016, 0.0157, 0.0109, 0.0077, 0.0123, 0.0124, 0.0035, 0.0182, 0.0183, 0.0207, 0.0073, 0.0165, 0.0145, 0.0154, 0.0091, 0.0082, 0.0071, 0.0048, 0.0029, 0.011, 0.0059, 0.0051, 0.0084, 0.0062, 0.0059, 0.0054, 0.0048, 0.0026, 0.0016, 0.0016];
var sjAmpZStd = [0.0016, 0.001, 0.0008, 0.0008, 0.0008, 0.0008, 0.0008, 0.0008, 0.0008, 0.0008, 0.0008, 0.001, 0.0012, 0.0012, 0.0012, 0.0012, 0.0015, 0.0015, 0.0015, 0.002, 0.0022, 0.0022, 0.002, 0.002, 0.003, 0.003, 0.0025, 0.0025, 0.003, 0.003, 0.003, 0.003, 0.003, 0.003, 0.003, 0.003, 0.003, 0.003, 0.003, 0.003, 0.003, 0.003, 0.003, 0.0025, 0.0025, 0.0025, 0.0025, 0.0025, 0.0025, 0.0025, 0.002, 0.002, 0.0015, 0.0015];
var sjAmpZTicks = [0, 0.006, 0.012, 0.018, 0.024];
var sjAmpZTickLabels = ['0.000', '0.006', '0.012', '0.018', '0.024'];

/* ---------- layout ---------- */
Chart.defaults.font.family = "'Liberation Sans', Arial, sans-serif";
Chart.defaults.color = '#000';

var colBox = [
  { left: 82, right: 578, yw: 82 },
  { left: 678, right: 967, yw: 88 },
  { left: 1069, right: 1572, yw: 74 },
  { left: 1679, right: 1973, yw: 90 }
];
var rowBox = [[53, 344], [363, 653], [674, 964]];

var framePlugin = {
  id: 'frame',
  beforeDatasetsDraw: function (chart, args, opts) {
    if (opts.shadeTo === null || opts.shadeTo === undefined) return;
    var a = chart.chartArea, ctx = chart.ctx, x = chart.scales.x;
    var x0 = x.getPixelForValue(opts.shadeFrom), x1 = x.getPixelForValue(opts.shadeTo);
    ctx.save();
    ctx.fillStyle = '#dddddd';
    ctx.fillRect(x0, a.top, x1 - x0, a.bottom - a.top);
    ctx.restore();
  },
  afterDatasetsDraw: function (chart) {
    var a = chart.chartArea, ctx = chart.ctx;
    ctx.save();
    ctx.strokeStyle = '#333333';
    ctx.lineWidth = 1.3;
    ctx.strokeRect(a.left, a.top, a.right - a.left, a.bottom - a.top);
    ctx.restore();
  }
};

function labelFor(vals, labels) {
  return function (v) {
    for (var i = 0; i < vals.length; i++) {
      if (Math.abs(vals[i] - v) < 1e-9) return labels[i];
    }
    return '';
  };
}

function makePanel(p) {
  var c = colBox[p.col], r = rowBox[p.row];
  var last = p.row === 2;
  var padTop = 12, padRight = 22, xh = last ? 59 : 7;
  var w = c.yw + (c.right - c.left) + padRight;
  var h = padTop + (r[1] - r[0]) + xh;
  var cv = document.createElement('canvas');
  cv.width = w; cv.height = h;
  cv.style.width = w + 'px'; cv.style.height = h + 'px';
  cv.style.left = (c.left - c.yw) + 'px';
  cv.style.top = (r[0] - padTop) + 'px';
  document.body.appendChild(cv);

  if (p.x.length !== p.truth.length || p.x.length !== p.pred.length || p.x.length !== p.spread.length) {
    console.warn('length mismatch', p.yTitle, p.x.length, p.truth.length, p.pred.length, p.spread.length);
  }

  var truth = [], pred = [], upper = [], lower = [];
  for (var i = 0; i < p.x.length; i++) {
    truth.push({ x: p.x[i], y: p.truth[i] });
    if (p.pred[i] !== null && p.pred[i] !== undefined) {
      pred.push({ x: p.x[i], y: p.pred[i] });
      upper.push({ x: p.x[i], y: p.pred[i] + p.spread[i] });
      lower.push({ x: p.x[i], y: p.pred[i] - p.spread[i] });
    }
  }
  var isTime = p.col === 0 || p.col === 2;
  var curve = isTime ? { cubicInterpolationMode: 'monotone' } : { tension: 0 };
  function ds(o) { return Object.assign({ pointRadius: 0 }, curve, o); }

  new Chart(cv, {
    type: 'line',
    data: {
      datasets: [
        ds({ data: lower, borderColor: 'rgba(255,0,0,0.3)', borderWidth: 1, fill: false, order: 3 }),
        ds({ data: upper, borderColor: 'rgba(255,0,0,0.3)', borderWidth: 1, backgroundColor: 'rgba(255,0,0,0.32)', fill: '-1', order: 2 }),
        ds({ data: truth, borderColor: '#0000ff', borderWidth: 2, fill: false, order: 1 }),
        ds({ data: pred, borderColor: '#ff0000', borderWidth: 2.5, fill: false, order: 0 })
      ]
    },
    options: {
      responsive: false,
      devicePixelRatio: 1,
      animation: false,
      events: [],
      layout: { padding: { top: padTop, right: padRight, left: 0, bottom: 0 } },
      plugins: {
        legend: { display: false },
        tooltip: { enabled: false },
        frame: { shadeFrom: inputWindow[0], shadeTo: isTime ? inputWindow[1] : null }
      },
      scales: {
        x: {
          type: 'linear',
          min: 0,
          max: isTime ? 110 : 0.6,
          afterBuildTicks: function (s) { s.ticks = (isTime ? timeTicks : freqTicks).map(function (v) { return { value: v }; }); },
          afterFit: function (s) { s.height = xh; },
          grid: { drawOnChartArea: false, drawTicks: true, tickLength: 5, color: '#333333', lineWidth: 1.3 },
          border: { display: false },
          ticks: {
            display: last, autoSkip: false, maxRotation: 0, padding: 3,
            font: { size: 19 },
            callback: labelFor(isTime ? timeTicks : freqTicks, isTime ? timeTickLabels : freqTickLabels)
          },
          title: { display: last, text: isTime ? 'Time (s)' : 'Frequency (Hz)', font: { size: 25, lineHeight: 1 }, padding: 0 }
        },
        y: {
          type: 'linear',
          min: p.yRange[0],
          max: p.yRange[1],
          afterBuildTicks: function (s) { s.ticks = p.yTicks.map(function (v) { return { value: v }; }); },
          afterFit: function (s) { s.width = c.yw; },
          grid: { drawOnChartArea: false, drawTicks: true, tickLength: 5, color: '#333333', lineWidth: 1.3 },
          border: { display: false },
          ticks: { autoSkip: false, padding: 4, font: { size: 19 }, callback: labelFor(p.yTicks, p.yLabels) },
          title: { display: true, text: p.yTitle, font: { size: 25, lineHeight: 1 }, padding: 0 }
        }
      }
    },
    plugins: [framePlugin]
  });
}

var panels = [
  { col: 0, row: 0, x: sfVelXTime, truth: sfVelXTrue, pred: sfVelXPred, spread: sfVelXStd, yRange: [-0.781, 0.795], yTicks: sfVelXTicks, yLabels: sfVelXTickLabels, yTitle: 'Velocity X (mm/s)' },
  { col: 0, row: 1, x: sfVelYTime, truth: sfVelYTrue, pred: sfVelYPred, spread: sfVelYStd, yRange: [-0.362, 0.338], yTicks: sfVelYTicks, yLabels: sfVelYTickLabels, yTitle: 'Velocity Y (mm/s)' },
  { col: 0, row: 2, x: sfVelZTime, truth: sfVelZTrue, pred: sfVelZPred, spread: sfVelZStd, yRange: [-0.102, 0.090], yTicks: sfVelZTicks, yLabels: sfVelZTickLabels, yTitle: 'Velocity Z (mm/s)' },
  { col: 1, row: 0, x: sfAmpXFreq, truth: sfAmpXTrue, pred: sfAmpXPred, spread: sfAmpXStd, yRange: [-0.0023, 0.0421], yTicks: sfAmpXTicks, yLabels: sfAmpXTickLabels, yTitle: 'Amplitude X (mm/s)' },
  { col: 1, row: 1, x: sfAmpYFreq, truth: sfAmpYTrue, pred: sfAmpYPred, spread: sfAmpYStd, yRange: [-0.00114, 0.01988], yTicks: sfAmpYTicks, yLabels: sfAmpYTickLabels, yTitle: 'Amplitude Y (mm/s)' },
  { col: 1, row: 2, x: sfAmpZFreq, truth: sfAmpZTrue, pred: sfAmpZPred, spread: sfAmpZStd, yRange: [-0.00038, 0.00614], yTicks: sfAmpZTicks, yLabels: sfAmpZTickLabels, yTitle: 'Amplitude Z (mm/s)' },
  { col: 2, row: 0, x: sjVelXTime, truth: sjVelXTrue, pred: sjVelXPred, spread: sjVelXStd, yRange: [-0.431, 0.324], yTicks: sjVelXTicks, yLabels: sjVelXTickLabels, yTitle: 'Velocity X (mm/s)' },
  { col: 2, row: 1, x: sjVelYTime, truth: sjVelYTrue, pred: sjVelYPred, spread: sjVelYStd, yRange: [-0.5025, 0.585], yTicks: sjVelYTicks, yLabels: sjVelYTickLabels, yTitle: 'Velocity Y (mm/s)' },
  { col: 2, row: 2, x: sjVelZTime, truth: sjVelZTrue, pred: sjVelZPred, spread: sjVelZStd, yRange: [-0.211, 0.2545], yTicks: sjVelZTicks, yLabels: sjVelZTickLabels, yTitle: 'Velocity Z (mm/s)' },
  { col: 3, row: 0, x: sjAmpXFreq, truth: sjAmpXTrue, pred: sjAmpXPred, spread: sjAmpXStd, yRange: [-0.0042, 0.0434], yTicks: sjAmpXTicks, yLabels: sjAmpXTickLabels, yTitle: 'Amplitude X (mm/s)' },
  { col: 3, row: 1, x: sjAmpYFreq, truth: sjAmpYTrue, pred: sjAmpYPred, spread: sjAmpYStd, yRange: [-0.0058, 0.0735], yTicks: sjAmpYTicks, yLabels: sjAmpYTickLabels, yTitle: 'Amplitude Y (mm/s)' },
  { col: 3, row: 2, x: sjAmpZFreq, truth: sjAmpZTrue, pred: sjAmpZPred, spread: sjAmpZStd, yRange: [-0.0021, 0.0252], yTicks: sjAmpZTicks, yLabels: sjAmpZTickLabels, yTitle: 'Amplitude Z (mm/s)' }
];

panels.forEach(makePanel);
</script>
</body>
</html>
